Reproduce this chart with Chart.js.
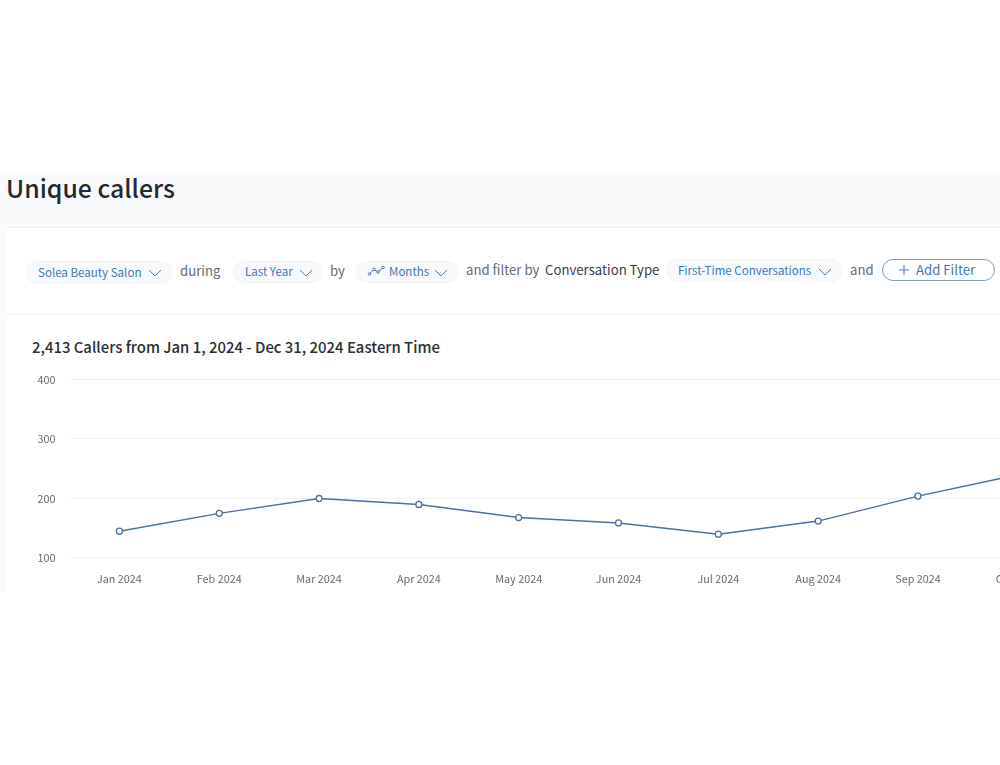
<!DOCTYPE html>
<html lang="en">
<head>
    <meta charset="UTF-8">
    <title>Unique callers</title>
    <script src="https://cdn.jsdelivr.net/npm/chart.js@4"></script>
    <style>
        html, body { margin: 0; padding: 0; background: #fff; overflow: hidden; }
        body { width: 1000px; height: 765px; position: relative; font-family: "Noto Sans CJK SC", "Noto Sans", sans-serif; }
        #page { position: absolute; left: 0; top: 172px; width: 1000px; height: 419px; background: #f9fafb; overflow: hidden; }
        .panel { position: absolute; left: 6px; width: 1000px; background: #fff; }
        .abs { position: absolute; white-space: nowrap; line-height: 20px; }
        .chip { position: absolute; background: #f7f9fb; border: 1px solid #f2f4f6; border-radius: 12px; box-sizing: border-box; }
        .blue { color: #3f78b5; font-size: 11.55px; }
        .grey { color: #666b70; font-size: 13.2px; }
        .dark { color: #3c4045; font-size: 13.2px; }
        svg { position: absolute; overflow: visible; fill: none; stroke: #4a7cb3; stroke-width: 1; }
        #wrap { position: absolute; left: 0; top: 359px; width: 1073px; height: 232px; }
    </style>
</head>
<body>

<div id="page">
    <div class="panel" style="top:55px;height:85px;border-top:1px solid #eef0f2"></div>
    <div class="panel" style="top:142px;height:277px;border-top:1px solid #eef0f2"></div>
</div>

<div class="abs" style="left:6px;top:170px;line-height:34px;font-size:24.8px;font-weight:500;color:#24292e">Unique callers</div>

<div class="chip" style="left:26px;top:261px;width:146px;height:23px"></div>
<div class="abs blue" style="left:38px;top:262px">Solea Beauty Salon</div>
<svg style="left:149px;top:270px" width="12" height="6"><path d="M0 0 L6 6 L12 0"/></svg>
<div class="abs grey" style="left:180px;top:261px">during</div>

<div class="chip" style="left:233px;top:261px;width:90px;height:22px"></div>
<div class="abs blue" style="left:245px;top:261px">Last Year</div>
<svg style="left:300px;top:270px" width="12" height="6"><path d="M0 0 L6 6 L12 0"/></svg>
<div class="abs grey" style="left:330px;top:261px">by</div>

<div class="chip" style="left:356px;top:261px;width:103px;height:22px"></div>
<svg style="left:368px;top:266px" width="17" height="10">
    <path d="M1.5 8 L6 3.5 L10 6 L15 1.5"/>
    <circle cx="1.5" cy="8" r="1.3" fill="#fff"/><circle cx="6" cy="3.5" r="1.3" fill="#fff"/>
    <circle cx="10" cy="6" r="1.3" fill="#fff"/><circle cx="15" cy="1.5" r="1.3" fill="#fff"/>
</svg>
<div class="abs blue" style="left:389px;top:261px">Months</div>
<svg style="left:435px;top:270px" width="12" height="6"><path d="M0 0 L6 6 L12 0"/></svg>

<div class="abs grey" style="left:466px;top:260px">and filter by</div>
<div class="abs dark" style="left:545px;top:260px">Conversation Type</div>

<div class="chip" style="left:666px;top:259px;width:176px;height:23px"></div>
<div class="abs blue" style="left:678px;top:260px">First-Time Conversations</div>
<svg style="left:819px;top:269px" width="12" height="6"><path d="M0 0 L6 6 L12 0"/></svg>
<div class="abs grey" style="left:850px;top:260px">and</div>

<div class="chip" style="left:882px;top:259px;width:113px;height:22px;background:#fff;border-color:#7d9fc8"></div>
<svg style="left:899px;top:265px" width="10" height="10"><path d="M5 0 L5 10 M0 5 L10 5"/></svg>
<div class="abs blue" style="left:916px;top:260px;font-size:13.2px">Add Filter</div>

<div class="abs" style="left:32px;top:337px;font-size:14.9px;font-weight:500;color:#2b2f33">2,413 Callers from Jan 1, 2024 - Dec 31, 2024 Eastern Time</div>

<div id="wrap"><canvas id="myChart"></canvas></div>

<script>
    // valeurs
    const months = ['Jan 2024', 'Feb 2024', 'Mar 2024', 'Apr 2024', 'May 2024', 'Jun 2024', 'Jul 2024', 'Aug 2024', 'Sep 2024', 'Oct 2024'];
    const callers = [145, 175, 200, 190, 168, 159, 140, 162, 204, 240];
    const yTicks = [100, 200, 300, 400];

    Chart.defaults.font.family = '"Noto Sans CJK SC", "Noto Sans", sans-serif';

    new Chart(document.querySelector('#myChart').getContext('2d'), {
        type: 'line',
        data: {
            labels: months,
            datasets: [{
                label: 'Callers',
                data: callers,
                borderColor: '#4c709c',
                borderWidth: 1.5,
                tension: 0,
                pointRadius: 3,
                pointBorderWidth: 1.3,
                pointBackgroundColor: '#fff',
                pointBorderColor: '#4c709c'
            }]
        },
        options: {
            responsive: true,
            maintainAspectRatio: false,
            animation: false,
            layout: { padding: { top: 18, left: 0, right: 0, bottom: 0 } },
            plugins: { legend: { display: false }, tooltip: { enabled: false } },
            scales: {
                x: {
                    offset: true,
                    grid: { display: false },
                    border: { display: false },
                    ticks: { autoSkip: false, maxRotation: 0, padding: 6, color: '#666b70', font: { size: 10.8 } },
                    afterFit: scale => { scale.height = 33; }
                },
                y: {
                    min: 100,
                    max: 400,
                    grid: { color: '#eef0f2', drawTicks: false },
                    border: { display: false },
                    afterBuildTicks: scale => { scale.ticks = yTicks.map(v => ({ value: v })); },
                    ticks: { padding: 14, color: '#666b70', font: { size: 10.8 } },
                    afterFit: scale => { scale.width = 69.5; }
                }
            }
        }
    });
</script>
</body>
</html>
